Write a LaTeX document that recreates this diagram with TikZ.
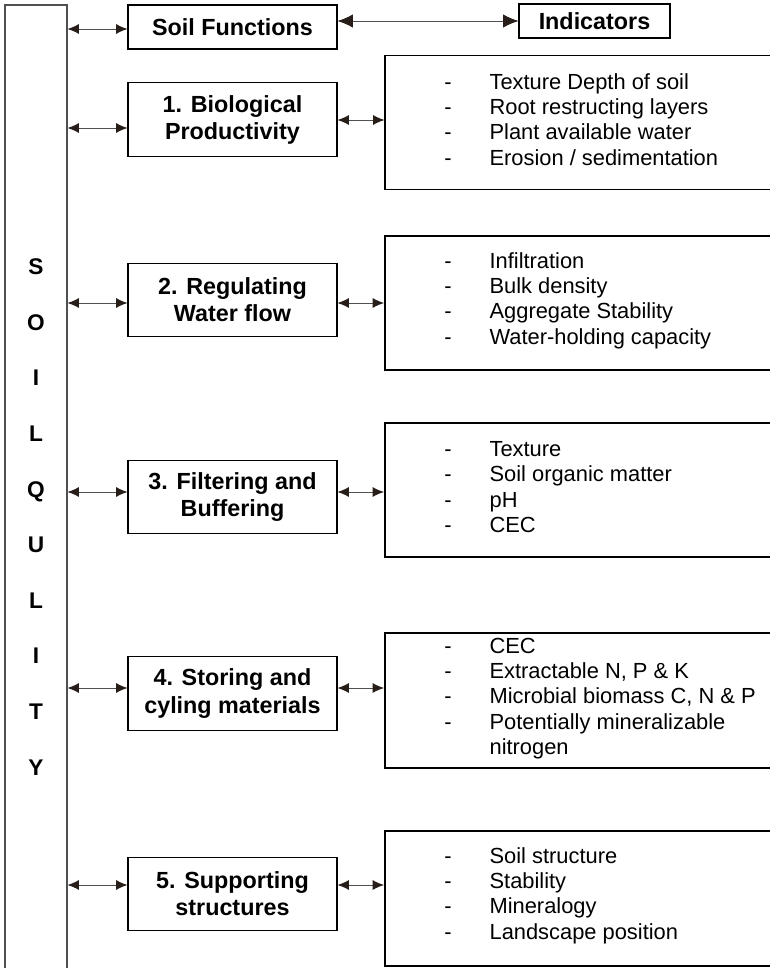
\documentclass[tikz,border=0pt]{standalone}
\usepackage{fontspec}
\setmainfont{Liberation Sans}
\usepackage{tikz}
\usetikzlibrary{arrows.meta, positioning}
\definecolor{lineGray}{RGB}{80,80,80}
\definecolor{tipDark}{RGB}{40,30,25}

\begin{document}
\begin{tikzpicture}[
      x=0.75pt, y=-0.75pt,
      fnbox/.style={draw, rectangle, line width=0.8pt, inner sep=0pt,
                    minimum width=156.75pt, minimum height=55pt,
                    align=center, font=\bfseries\fontsize{17.5}{20.3}\selectfont},
      indbox/.style={draw, rectangle, line width=1.5pt, inner sep=0pt,
                     minimum width=292.5pt, minimum height=101pt},
      items/.style={anchor=west, inner sep=0pt, align=left,
                    font=\fontsize{16.4}{19}\selectfont},
      arr/.style={{Latex[length=8.5pt,width=7.5pt,color=tipDark]}-{Latex[length=8.5pt,width=7.5pt,color=tipDark]},
                  line width=0.7pt, color=lineGray},
      bigarr/.style={{Latex[length=11.5pt,width=10pt,color=tipDark]}-{Latex[length=11.5pt,width=10pt,color=tipDark]},
                     line width=0.7pt, color=lineGray}
    ]
      \useasboundingbox (0,0) rectangle (769,968);
      \newcommand{\dash}{\makebox[34pt][l]{-}}

      % left column
      \node[draw=lineGray, line width=0.8pt, inner sep=0pt, minimum width=46.5pt,
            minimum height=768pt, align=center,
            font=\bfseries\fontsize{17}{41.7}\selectfont] (soil) at (36,517)
            {S\\O\\I\\L\\Q\\U\\L\\I\\T\\Y};

      % headings
      \node[fnbox, minimum height=33pt] (head) at (232.5,27) {Soil Functions};
      \node[fnbox, minimum width=113.25pt, minimum height=25.5pt] (ind) at (594.5,21) {Indicators};

      % functions
      \node[fnbox] (fn1) at (232.5,119.5) {1. Biological\\Productivity};
      \node[fnbox] (fn2) at (232.5,300)   {2. Regulating\\Water flow};
      \node[fnbox] (fn3) at (232.5,497)   {3. Filtering and\\Buffering};
      \node[fnbox] (fn4) at (232.5,693.5) {4. Storing and\\cyling materials};
      \node[fnbox] (fn5) at (232.5,894)   {5. Supporting\\structures};

      % indicators
      \node[indbox, line width=0.8pt] (ind1) at (580,122.5) {};
      \node[indbox] (ind2) at (580,303)   {};
      \node[indbox] (ind3) at (580,490)   {};
      \node[indbox] (ind4) at (580,700.5) {};
      \node[indbox] (ind5) at (580,898.5) {};

      \node[items] (lst1) at (444,119.5) {\dash Texture Depth of soil\\\dash Root restructing layers\\
            \dash Plant available water\\\dash Erosion / sedimentation};
      \node[items] (lst2) at (444,300.5) {\dash Infiltration\\\dash Bulk density\\
            \dash Aggregate Stability\\\dash Water-holding capacity};
      \node[items] (lst3) at (444,487)   {\dash Texture\\\dash Soil organic matter\\\dash pH\\\dash CEC};
      \node[items] (lst4) at (444,698.5) {\dash CEC\\\dash Extractable N, P \& K\\
            \dash Microbial biomass C, N \& P\\\dash Potentially mineralizable\\\hspace*{34pt}nitrogen};
      \node[items] (lst5) at (444,895.5) {\dash Soil structure\\\dash Stability\\
            \dash Mineralogy\\\dash Landscape position};

      % connectors
      \draw[arr] (soil.east |- 0,29) -- (head.west |- 0,29);
      \draw[bigarr] (head.east |- ind.west) -- (ind.west);
      \foreach \i/\ly/\ry in {1/128/120, 2/303/303, 3/492/492, 4/688/688, 5/885/885} {
        \draw[arr] (soil.east |- 0,\ly) -- (fn\i.west |- 0,\ly);
        \draw[arr] (fn\i.east |- 0,\ry) -- (ind\i.west |- 0,\ry);
      }
    \end{tikzpicture}
\end{document}
